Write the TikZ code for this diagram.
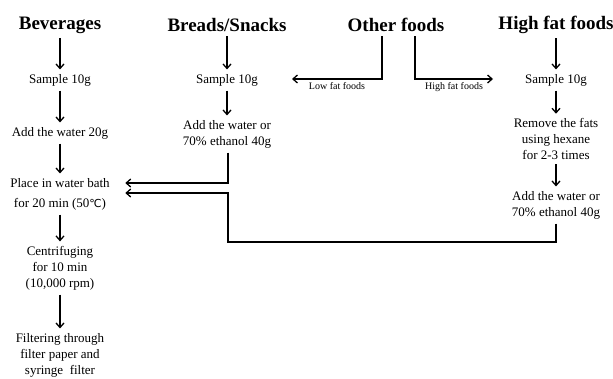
\documentclass[tikz,border=0pt]{standalone}
\usepackage{fontspec}
\setmainfont{Liberation Serif}
\newfontfamily\symfnt{DejaVu Sans}
\usetikzlibrary{arrows.meta, positioning}

\tikzset{
  head/.style={font=\fontsize{19}{22}\selectfont\bfseries, inner sep=4pt},
  body/.style={font=\fontsize{13}{16}\selectfont, inner sep=4pt},
  small/.style={font=\fontsize{10}{12}\selectfont, inner sep=3pt}
}

\begin{document}
\begin{tikzpicture}[x=1pt, y=-1pt, ->, >={Straight Barb[length=4.5pt,width=8pt]}, align=center, line width=1.3pt]
\useasboundingbox (0,0) rectangle (613,378);
% headings
\node[head] (1) at (60,25) {Beverages};
\node[head] (2) at (227,25) {Breads/Snacks};
\node[head] (3) at (396,25) {Other foods};
\node[head] (4) at (556,25) {High fat foods};
% beverages
\node[body] (5) at (60,80) {Sample 10g};
\node[body] (6) at (60,133) {Add the water 20g};
\node[body] (7) at (60,194) {Place in water bath \\[4pt] for 20 min (50{\symfnt\fontsize{11}{13}\selectfont ℃})};
\node[body] (8) at (60,268) {Centrifuging \\ for 10 min \\ (10,000 rpm)};
\node[body] (9) at (60,355) {Filtering through \\ filter paper and \\ syringe\ \ filter};
% breads/snacks
\node[body] (10) at (227,80) {Sample 10g};
\node[body] (11) at (227,134) {Add the water or \\ 70\% ethanol 40g};
% high fat foods
\node[body] (12) at (556,80) {Sample 10g};
\node[body] (13) at (556,139) {Remove the fats \\ using hexane \\ for 2-3 times};
\node[body] (14) at (556,205) {Add the water or \\ 70\% ethanol 40g};

\coordinate (low) at (292,79);
\coordinate (high) at (493,79);
\coordinate (turn) at (228,242);

\path (1) edge (5)
      (5) edge (6)
      (6) edge (7)
      (7) edge (8)
      (8) edge (9)
      (2) edge (10)
      (10) edge (11)
      (4) edge (12)
      (12) edge (13)
      (13) edge (14);

\draw ([xshift=-14pt]3.south) |- (low) node[small, pos=0.75, below] {Low fat foods};
\draw ([xshift=19pt]3.south) |- (high) node[small, pos=0.75, below] {High fat foods};
\draw ([xshift=1pt]11.south) |- ([xshift=11pt,yshift=11pt]7.east);
\draw (14.south) |- (turn) |- ([xshift=11pt,yshift=1pt]7.east);
\end{tikzpicture}
\end{document}
